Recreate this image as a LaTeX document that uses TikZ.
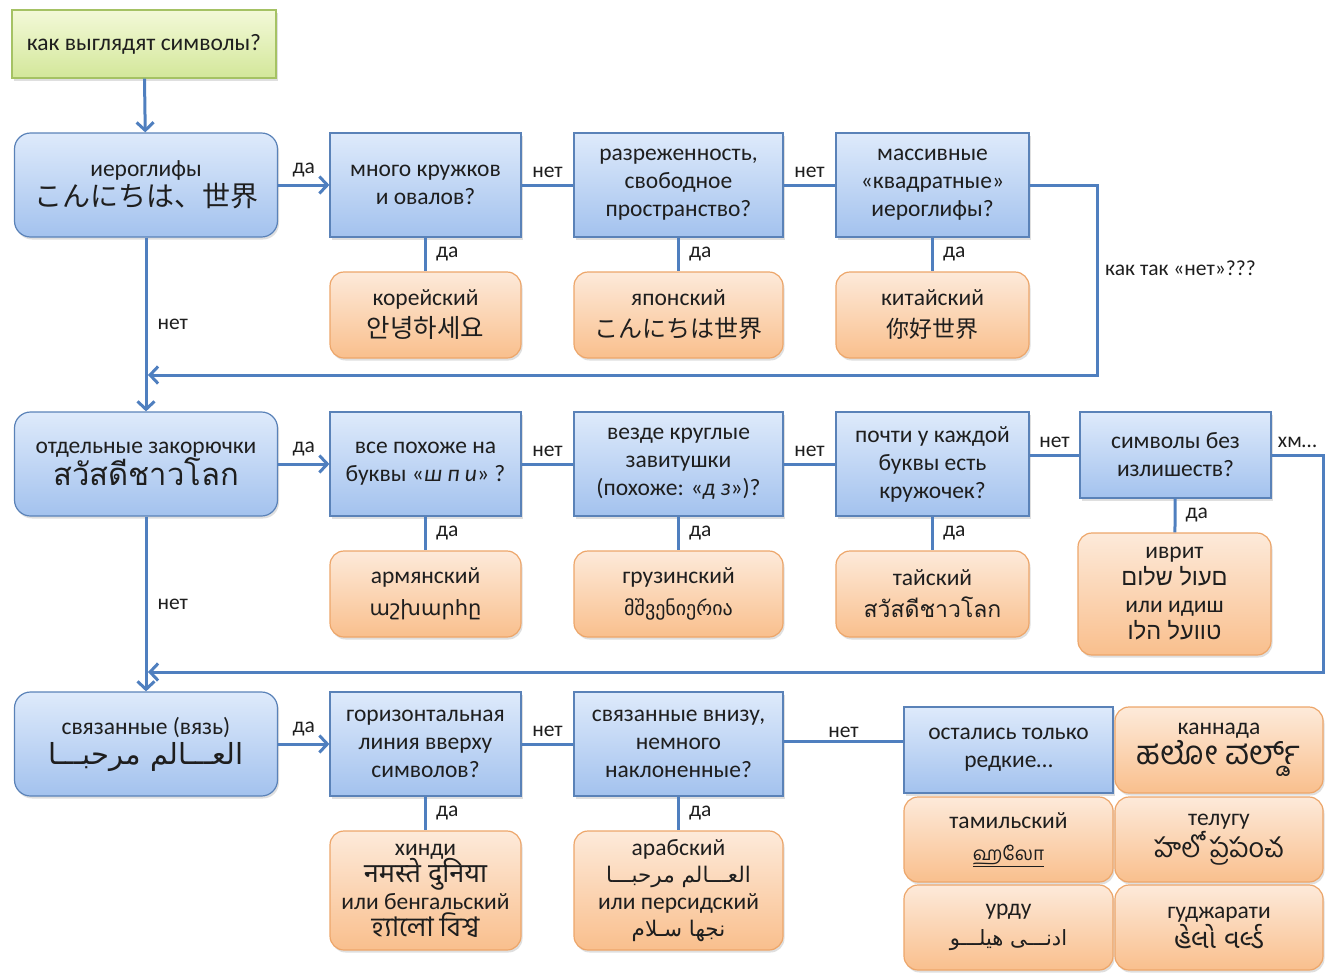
\documentclass[tikz,border=0pt]{standalone}
\usepackage{fontspec}
\setmainfont{Carlito}
\newfontfamily\jpfont{Noto Sans CJK JP}
\newfontfamily\krfont{Noto Sans CJK KR}
\newfontfamily\scfont{Noto Sans CJK SC}
\newfontfamily\thaifont[Script=Thai]{Loma}
\newfontfamily\dejafont{DejaVu Sans}
\newfontfamily\hebfont[Script=Hebrew]{Liberation Sans}
\newfontfamily\arabicfont[Script=Arabic]{DejaVu Sans}
\newfontfamily\devfont[Script=Devanagari]{Noto Sans}
\newfontfamily\bengfont[Script=Bengali]{Hind Siliguri}
\newfontfamily\tamfont[Script=Tamil]{Hind Madurai}
\newfontfamily\telfont[Script=Telugu]{Hind Guntur}
\newfontfamily\kanfont[Script=Kannada]{Hind Mysuru}
\newfontfamily\gujfont[Script=Gujarati]{Noto Sans Gujarati UI}
\TeXXeTstate=1
\usepackage{tikz}
\usetikzlibrary{arrows.meta,shadows}

\definecolor{qtop}{HTML}{DEEAFB}
\definecolor{qbot}{HTML}{A3C2EE}
\definecolor{qedge}{HTML}{5A82B8}
\definecolor{ltop}{HTML}{FDEADA}
\definecolor{lbot}{HTML}{F9BF8D}
\definecolor{ledge}{HTML}{EDA66A}
\definecolor{gtop}{HTML}{F3F9D8}
\definecolor{gbot}{HTML}{D3E79A}
\definecolor{gedge}{HTML}{A5C264}
\definecolor{flowline}{HTML}{4F7FBF}
\definecolor{ink}{HTML}{1E1E1E}

\newcommand\boxsz{\fontsize{23.5}{28}\selectfont\lineskiplimit=-100pt\relax}
\newcommand\tightsz{\fontsize{23.5}{27}\selectfont\lineskiplimit=-100pt\relax}
\newcommand\lblsz{\fontsize{21.5}{22}\selectfont}
\newcommand\scrsz{\fontsize{24}{28}\selectfont}

\tikzset{
  boxbase/.style={align=center,inner sep=0pt,text=ink,font=\boxsz,
    drop shadow={shadow xshift=1.5pt,shadow yshift=-2.5pt,opacity=.25}},
  start/.style={boxbase,draw=gedge,line width=1.2pt,top color=gtop,bottom color=gbot,
    minimum width=264pt,minimum height=68pt},
  mainbox/.style={boxbase,draw=qedge,line width=1.2pt,top color=qtop,bottom color=qbot,
    rounded corners=16pt,minimum width=263pt,minimum height=104pt},
  qbox/.style={boxbase,draw=qedge,line width=1.2pt,top color=qtop,bottom color=qbot,
    minimum width=191pt,minimum height=104pt},
  lang/.style={boxbase,draw=ledge,line width=1.2pt,top color=ltop,bottom color=lbot,
    rounded corners=14pt,minimum width=191pt,minimum height=86pt},
  flow/.style={draw=flowline,line width=3pt},
  flowarr/.style={flow,-{Straight Barb[length=8pt,width=17pt]}},
  lbl/.style={font=\lblsz,text=ink,inner sep=6pt},
}

\begin{document}
\begin{tikzpicture}[x=1pt,y=-1pt]
\useasboundingbox (0,0) rectangle (1333,972);

% start
\node[start] (start) at (144,44) {как выглядят символы?};

% row 1: hieroglyphs
\node[mainbox] (hier) at (146,185) {иероглифы\\[2pt]{\jpfont\fontsize{28}{30}\selectfont こんにちは、世界}};
\node[qbox] (circles) at (425.5,185) {много кружков\\и овалов?};
\node[qbox,minimum width=209pt] (sparse) at (678.5,185) {разреженность,\\свободное\\пространство?};
\node[qbox,minimum width=193pt] (square) at (932.5,185) {массивные\\«квадратные»\\иероглифы?};
\node[lang] (korean) at (425.5,315) {корейский\\[4pt]{\krfont\fontsize{25.5}{28}\selectfont 안녕하세요}};
\node[lang,minimum width=209pt] (japanese) at (678.5,315) {японский\\[4pt]{\jpfont\scrsz こんにちは世界}};
\node[lang,minimum width=193pt] (chinese) at (932.5,315) {китайский\\[4pt]{\scfont\fontsize{23}{28}\selectfont 你好世界}};

% row 2: separate squiggles
\node[mainbox] (squig) at (146,464) {отдельные закорючки\\[4pt]{\thaifont\fontsize{31}{34}\selectfont สวัสดีชาวโลก}};
\node[qbox] (shpi) at (425.5,464) {все похоже на\\буквы «\textit{ш п и}» ?};
\node[qbox,minimum width=209pt] (curls) at (678.5,464) {везде круглые\\завитушки\\(похоже: «\textit{д з}»)?};
\node[qbox,minimum width=193pt] (ring) at (932.5,464) {почти у каждой\\буквы есть\\кружочек?};
\node[qbox,minimum height=86pt] (plain) at (1175.5,455) {символы без\\излишеств?};
\node[lang] (armenian) at (425.5,594) {армянский\\[4pt]{\dejafont\fontsize{21}{28}\selectfont աշխարհը}};
\node[lang,minimum width=209pt] (georgian) at (678.5,594) {грузинский\\[4pt]{\dejafont\fontsize{20}{28}\selectfont მშვენიერია}};
\node[lang,minimum width=193pt] (thai) at (932.5,594) {тайский\\[4pt]{\thaifont\fontsize{23}{28}\selectfont สวัสดีชาวโลก}};
\node[lang,minimum width=193pt,minimum height=122pt,font=\tightsz] (hebrew) at (1174.5,594)
  {иврит\\{\hebfont\beginR םעול שלום\endR}\\или идиш\\{\hebfont\beginR טוועל הלו\endR}};

% row 3: joined script
\node[mainbox] (joined) at (146,744) {связанные (вязь)\\[2pt]{\arabicfont\fontsize{29}{32}\selectfont\beginR العـــالم مرحبـــا\endR}};
\node[qbox] (topline) at (425.5,744) {горизонтальная\\линия вверху\\символов?};
\node[qbox,minimum width=209pt] (slanted) at (678.5,744) {связанные внизу,\\немного\\наклоненные?};
\node[lang,minimum height=119pt,font=\tightsz] (hindi) at (425.5,890.5)
  {хинди\\{\devfont\fontsize{27}{27}\selectfont नमस्ते दुनिया}\\или бенгальский\\{\bengfont\fontsize{27}{27}\selectfont হ্যালো বিশ্ব}};
\node[lang,minimum width=209pt,minimum height=119pt,font=\tightsz] (arabic) at (678.5,890.5)
  {арабский\\{\arabicfont\fontsize{21.5}{27}\selectfont\beginR العـــالم مرحبـــا\endR}\\или персидский\\{\arabicfont\fontsize{21.5}{27}\selectfont\beginR نجها سـلام\endR}};

% rare scripts
\node[qbox,minimum width=209pt,minimum height=86pt] (rare) at (1008.5,750) {остались только\\редкие…};
\node[lang,minimum width=208pt] (kannada) at (1219,750) {каннада\\[2pt]{\kanfont\fontsize{33}{28}\selectfont ಹಲೋ ವರ್ಲ್ಡ್}};
\node[lang,minimum width=209pt,minimum height=85pt] (tamil) at (1008.5,839.5) {тамильский\\[4pt]{\tamfont\fontsize{19}{28}\selectfont\underline{ஹலோ}}};
\node[lang,minimum width=208pt,minimum height=85pt] (telugu) at (1219,839.5) {телугу\\[4pt]{\telfont\fontsize{27}{28}\selectfont హలో ప్రపంచ}};
\node[lang,minimum width=209pt,minimum height=85pt] (urdu) at (1008.5,927.5) {урду\\[2pt]{\arabicfont\fontsize{21}{28}\selectfont\beginR ادنـــی هیلـــو\endR}};
\node[lang,minimum width=208pt,minimum height=85pt] (gujarati) at (1219,927.5) {гуджарати\\[2pt]{\gujfont\fontsize{27}{28}\selectfont હેલો વર્લ્ડ}};

% loop-back points
\coordinate (turn1) at (1097,375);
\coordinate (join1) at (146,375);
\coordinate (turn2) at (1323,672);
\coordinate (join2) at (146,672);

% connectors row 1
\draw[flowarr] (start) -- (hier);
\draw[flowarr] (hier) -- node[lbl,above]{да} (circles);
\draw[flow] (circles) -- node[lbl,above]{нет} (sparse);
\draw[flow] (sparse) -- node[lbl,above]{нет} (square);
\draw[flow] (circles) -- node[lbl,right,inner sep=9pt]{да} (korean);
\draw[flow] (sparse) -- node[lbl,right,inner sep=9pt]{да} (japanese);
\draw[flow] (square) -- node[lbl,right,inner sep=9pt]{да} (chinese);
\draw[flowarr,shorten >=2pt] (square.east) -| (turn1) -- (join1);
\node[lbl,anchor=west,inner sep=0pt] (howno) at (1105,268) {как так «нет»???};
\draw[flowarr] (hier) -- node[lbl,right,inner sep=10pt]{нет} (squig);

% connectors row 2
\draw[flowarr] (squig) -- node[lbl,above]{да} (shpi);
\draw[flow] (shpi) -- node[lbl,above]{нет} (curls);
\draw[flow] (curls) -- node[lbl,above]{нет} (ring);
\draw[flow] (plain.west -| ring.east) -- node[lbl,above]{нет} (plain.west);
\draw[flow] (shpi) -- node[lbl,right,inner sep=9pt]{да} (armenian);
\draw[flow] (curls) -- node[lbl,right,inner sep=9pt]{да} (georgian);
\draw[flow] (ring) -- node[lbl,right,inner sep=9pt]{да} (thai);
\draw[flow] (plain) -- node[lbl,right,inner sep=9pt]{да} (hebrew);
\draw[flowarr,shorten >=2pt] (plain.east) -| node[pos=.25,lbl,above]{хм…} (turn2) -- (join2);
\draw[flowarr] (squig) -- node[lbl,right,inner sep=10pt]{нет} (joined);

% connectors row 3
\draw[flowarr] (joined) -- node[lbl,above]{да} (topline);
\draw[flow] (topline) -- node[lbl,above]{нет} (slanted);
\draw[flow] (topline) -- node[lbl,right,inner sep=9pt]{да} (hindi);
\draw[flow] (slanted) -- node[lbl,right,inner sep=9pt]{да} (arabic);
\draw[flow] ([yshift=3pt]slanted.east) -- node[lbl,above,inner sep=2pt]{нет} ([yshift=3pt]slanted.east -| rare.west);

\end{tikzpicture}
\end{document}
